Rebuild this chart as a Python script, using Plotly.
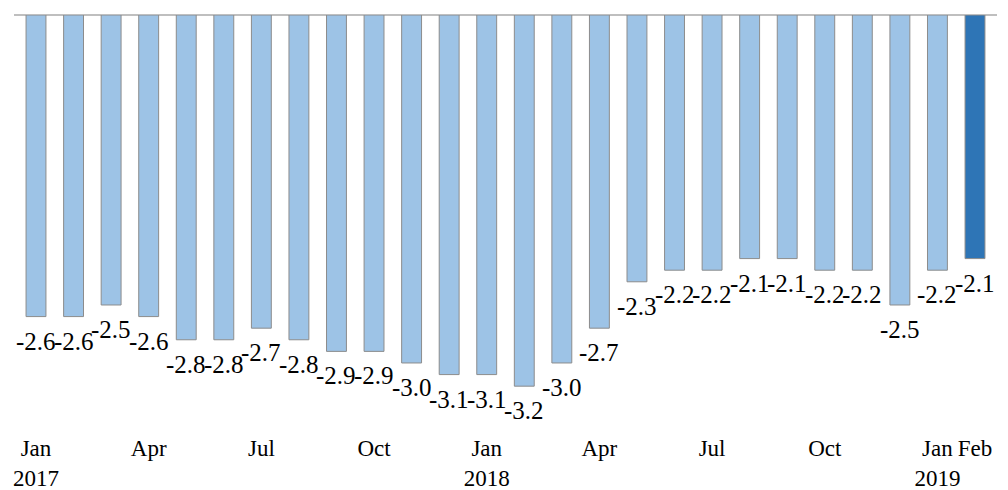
import plotly.graph_objects as go

months = ["2017-01","2017-02","2017-03","2017-04","2017-05","2017-06","2017-07","2017-08",
          "2017-09","2017-10","2017-11","2017-12","2018-01","2018-02","2018-03","2018-04",
          "2018-05","2018-06","2018-07","2018-08","2018-09","2018-10","2018-11","2018-12",
          "2019-01","2019-02"]
values = [-2.6,-2.6,-2.5,-2.6,-2.8,-2.8,-2.7,-2.8,-2.9,-2.9,-3.0,-3.1,-3.1,-3.2,-3.0,-2.7,
          -2.3,-2.2,-2.2,-2.1,-2.1,-2.2,-2.2,-2.5,-2.2,-2.1]
tick_vals = ["2017-01","2017-04","2017-07","2017-10","2018-01","2018-04","2018-07","2018-10",
             "2019-01","2019-02"]
tick_text = ["Jan<br>2017","Apr","Jul","Oct","Jan<br>2018","Apr","Jul","Oct","Jan<br>2019","Feb"]

light = "#9DC3E6"
dark = "#2E75B6"
colors = [light] * (len(values) - 1) + [dark]

FONT = "Liberation Serif"

fig = go.Figure(go.Bar(
    x=months, y=values,
    marker=dict(color=colors, line=dict(color="#8C8C8C", width=1)),
    hoverinfo="x+y",
))

for m, v in zip(months, values):
    fig.add_annotation(
        x=m, y=v, text=f"{v:.1f}", showarrow=False,
        yanchor="top", xanchor="center", yshift=-9,
        font=dict(family=FONT, size=25, color="black"),
    )

fig.update_layout(
    width=1000, height=482,
    margin=dict(l=6, r=11, t=7, b=58, autoexpand=False),
    paper_bgcolor="white", plot_bgcolor="white",
    bargap=0.47,
    showlegend=False,
    font=dict(family=FONT, size=23, color="black"),
)
fig.update_xaxes(
    type="category", automargin=False, tickangle=0,
    tickmode="array", tickvals=tick_vals, ticktext=tick_text,
    showline=False, showgrid=False, ticks="",
    tickfont=dict(family=FONT, size=23, color="black"),
)
fig.update_yaxes(
    range=[-3.595, 0], automargin=False,
    showticklabels=False, showgrid=False, showline=False, ticks="",
    zeroline=True, zerolinecolor="#BFBFBF", zerolinewidth=2,
)

fig.write_html("out.html")
